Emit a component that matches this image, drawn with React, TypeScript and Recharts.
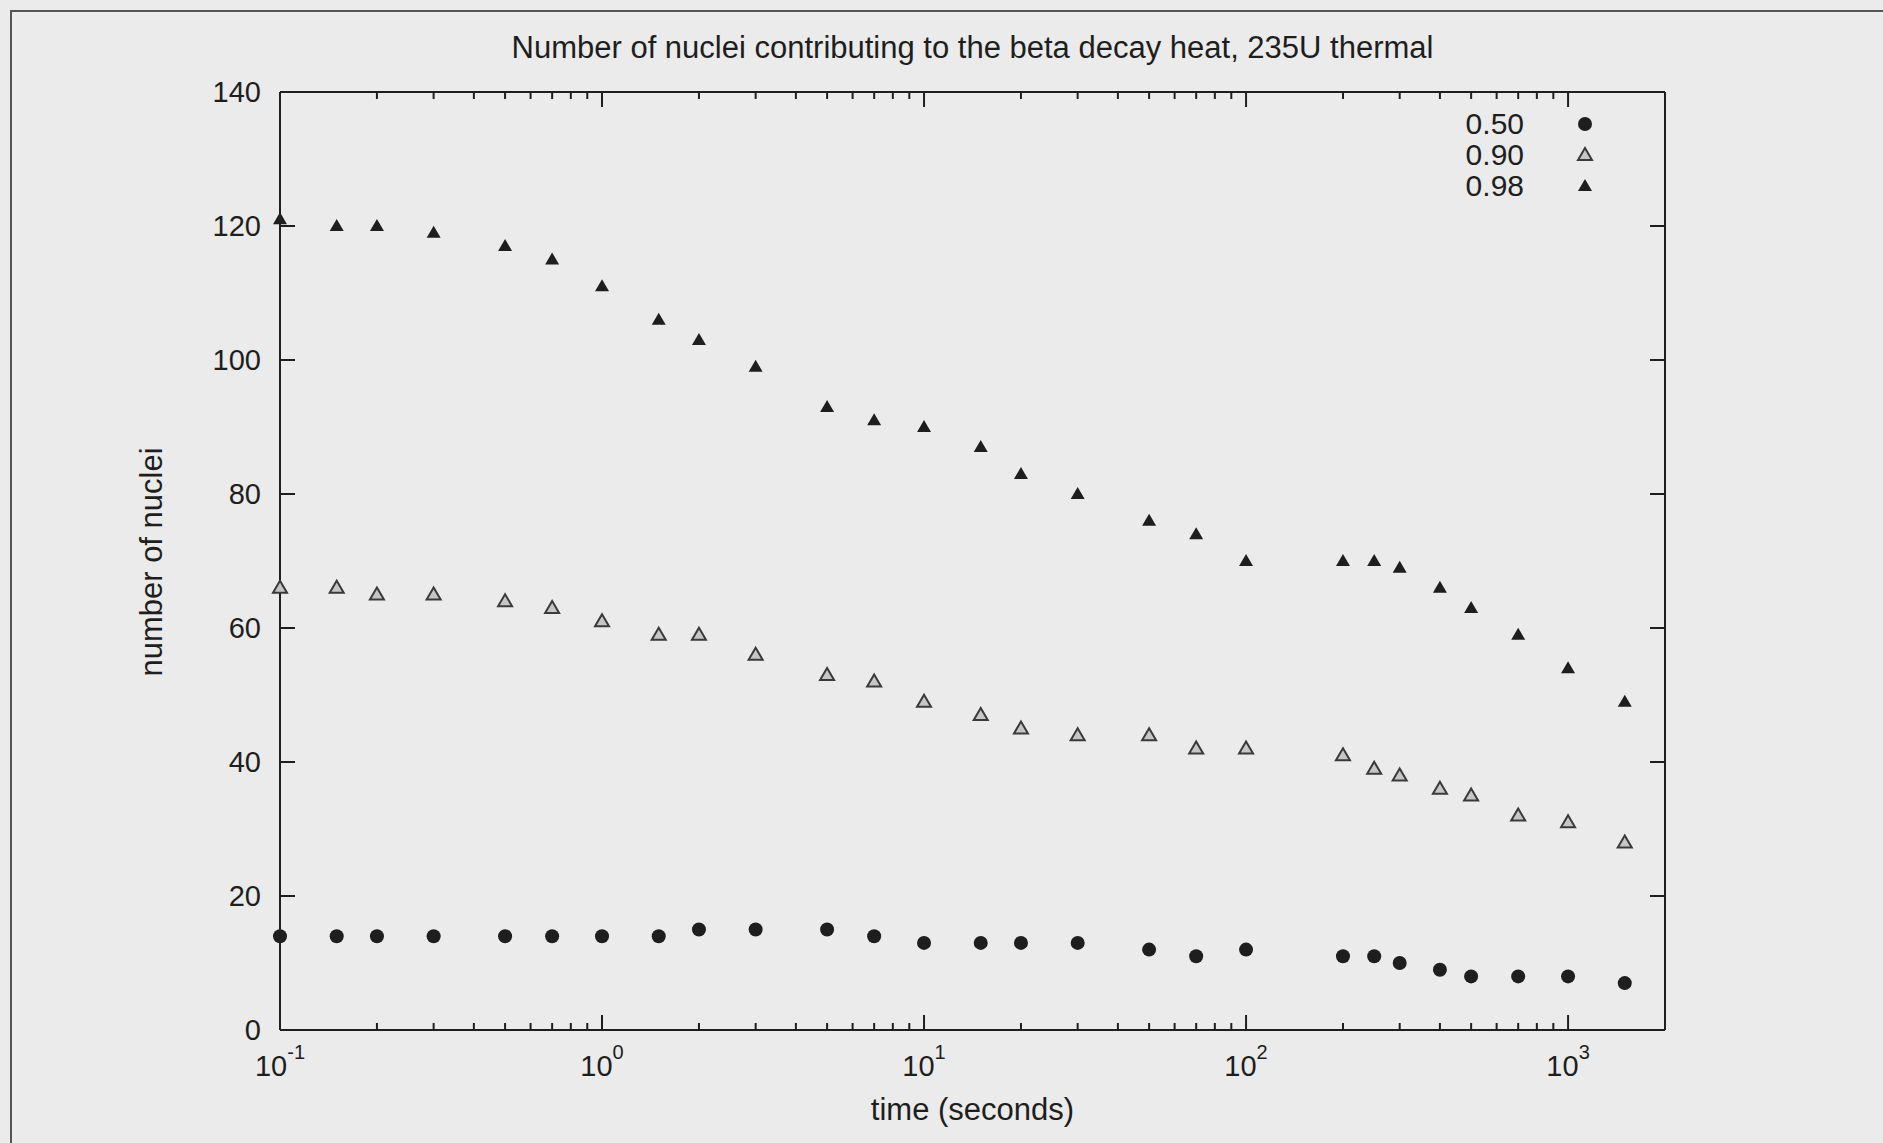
import React from "react"
import { ScatterChart, Scatter, XAxis, YAxis } from "recharts"

// time points (seconds)
const times = [0.1, 0.15, 0.2, 0.3, 0.5, 0.7, 1, 1.5, 2, 3, 5, 7, 10, 15, 20, 30, 50, 70, 100, 200, 250, 300, 400, 500, 700, 1000, 1500]

// number of nuclei needed for each fraction of the decay heat
const frac50 = [14, 14, 14, 14, 14, 14, 14, 14, 15, 15, 15, 14, 13, 13, 13, 13, 12, 11, 12, 11, 11, 10, 9, 8, 8, 8, 7]
const frac90 = [66, 66, 65, 65, 64, 63, 61, 59, 59, 56, 53, 52, 49, 47, 45, 44, 44, 42, 42, 41, 39, 38, 36, 35, 32, 31, 28]
const frac98 = [121, 120, 120, 119, 117, 115, 111, 106, 103, 99, 93, 91, 90, 87, 83, 80, 76, 74, 70, 70, 70, 69, 66, 63, 59, 54, 49]

const decades = [0.1, 1, 10, 100, 1000]
const decadeExp = ["-1", "0", "1", "2", "3"]
const yTicks = [0, 20, 40, 60, 80, 100, 120, 140]

const xTicks: number[] = []
decades.forEach((d) => {
  for (let m = 1; m <= 9; m++) {
    const v = +(d * m).toPrecision(3)
    if (v <= 2000) xTicks.push(v)
  }
})
xTicks.push(2000)

const toPoints = (vals: number[]) => times.map((t, i) => ({ t, n: vals[i] }))

// chart layout
const W = 1883
const H = 1143
const MARGIN = { top: 91, right: 217, bottom: 112, left: 279 }
const PLOT_W = W - MARGIN.left - MARGIN.right - 2
const PLOT_H = H - MARGIN.top - MARGIN.bottom - 2

const INK = "#1e1e1e"
const FONT = "'Liberation Sans', Arial, Helvetica, sans-serif"

const Dot = (p: any) => <circle cx={p.cx} cy={p.cy} r={7} fill={INK} />
const FilledTri = (p: any) => (
  <path d={`M${p.cx},${p.cy - 7} L${p.cx + 7},${p.cy + 5} L${p.cx - 7},${p.cy + 5} Z`} fill={INK} />
)
const OpenTri = (p: any) => (
  <path
    d={`M${p.cx},${p.cy - 7} L${p.cx + 7},${p.cy + 5} L${p.cx - 7},${p.cy + 5} Z`}
    fill="#c6c6c6"
    stroke="#3a3a3a"
    strokeWidth={2}
  />
)

const series = [
  { name: "0.50", data: toPoints(frac50), shape: Dot },
  { name: "0.90", data: toPoints(frac90), shape: OpenTri },
  { name: "0.98", data: toPoints(frac98), shape: FilledTri },
]

const isMajor = (v: number) => decades.indexOf(v) >= 0

// bottom ticks, mirrored onto the top edge of the frame
const XTick = (props: any) => {
  const { x, y, payload } = props
  const v = payload.value
  if (v >= 2000) return <g />
  const major = isMajor(v)
  const len = major ? 15 : 7
  const exp = decadeExp[decades.indexOf(v)]
  const top = y - PLOT_H
  return (
    <g>
      <line x1={x} x2={x} y1={y} y2={y - len} stroke={INK} strokeWidth={2} />
      <line x1={x} x2={x} y1={top} y2={top + len} stroke={INK} strokeWidth={2} />
      {major && (
        <text x={x} y={y + 46} textAnchor="middle" fontFamily={FONT} fontSize={29} fill={INK}>
          10
          <tspan dy={-17} fontSize={20}>{exp}</tspan>
        </text>
      )}
    </g>
  )
}

// left ticks, mirrored onto the right edge of the frame
const YTick = (props: any) => {
  const { x, y, payload } = props
  const right = x + PLOT_W
  return (
    <g>
      <line x1={x} x2={x + 15} y1={y} y2={y} stroke={INK} strokeWidth={2} />
      <line x1={right} x2={right - 15} y1={y} y2={y} stroke={INK} strokeWidth={2} />
      <text x={x - 19} y={y} dy={10} textAnchor="end" fontFamily={FONT} fontSize={29} fill={INK}>
        {payload.value}
      </text>
    </g>
  )
}

const Legend = () => (
  <div style={{ position: "absolute", left: 1440, top: 108 }}>
    {series.map((s) => (
      <div key={s.name} style={{ display: "flex", alignItems: "center", height: 31 }}>
        <div style={{ width: 84, textAlign: "right", fontFamily: FONT, fontSize: 30, color: INK, lineHeight: "31px" }}>
          {s.name}
        </div>
        <svg width={40} height={31} style={{ marginLeft: 41 }}>
          {s.shape({ cx: 20, cy: 16 })}
        </svg>
      </div>
    ))}
  </div>
)

const axisLine = { stroke: INK, strokeWidth: 2 }

export default function App() {
  return (
    <div
      style={{
        position: "absolute",
        left: 0,
        top: 0,
        width: W,
        height: H,
        background: "#ebebeb",
        overflow: "hidden",
      }}
    >
      <div
        style={{
          position: "absolute",
          left: 10,
          top: 10,
          width: 1900,
          height: 1200,
          borderTop: "2px solid #555",
          borderLeft: "2px solid #555",
        }}
      />
      <div
        style={{
          position: "absolute",
          left: 280,
          width: 1385,
          top: 30,
          textAlign: "center",
          fontFamily: FONT,
          fontSize: 31,
          color: INK,
        }}
      >
        Number of nuclei contributing to the beta decay heat, 235U thermal
      </div>
      <div
        style={{
          position: "absolute",
          left: 280,
          width: 1385,
          top: 1092,
          textAlign: "center",
          fontFamily: FONT,
          fontSize: 31,
          color: INK,
        }}
      >
        time (seconds)
      </div>
      <div
        style={{
          position: "absolute",
          left: 152,
          top: 562,
          transform: "translate(-50%, -50%) rotate(-90deg)",
          whiteSpace: "nowrap",
          fontFamily: FONT,
          fontSize: 31,
          color: INK,
        }}
      >
        number of nuclei
      </div>
      <ScatterChart width={W} height={H} margin={MARGIN} style={{ position: "absolute", left: 0, top: 0 }}>
        <XAxis
          xAxisId="b"
          dataKey="t"
          type="number"
          scale="log"
          domain={[0.1, 2000]}
          ticks={xTicks}
          interval={0}
          height={1}
          tickSize={0}
          tickMargin={0}
          tickLine={false}
          axisLine={axisLine}
          tick={(p: any) => <XTick {...p} />}
        />
        <XAxis
          xAxisId="t"
          orientation="top"
          dataKey="t"
          type="number"
          scale="log"
          domain={[0.1, 2000]}
          height={1}
          tickLine={false}
          tick={false}
          axisLine={axisLine}
        />
        <YAxis
          yAxisId="l"
          dataKey="n"
          type="number"
          domain={[0, 140]}
          ticks={yTicks}
          interval={0}
          width={1}
          tickSize={0}
          tickMargin={0}
          tickLine={false}
          axisLine={axisLine}
          tick={(p: any) => <YTick {...p} />}
        />
        <YAxis
          yAxisId="r"
          orientation="right"
          dataKey="n"
          type="number"
          domain={[0, 140]}
          width={1}
          tickLine={false}
          tick={false}
          axisLine={axisLine}
        />
        {series.map((s) => (
          <Scatter
            key={s.name}
            name={s.name}
            data={s.data}
            xAxisId="b"
            yAxisId="l"
            shape={s.shape}
            isAnimationActive={false}
          />
        ))}
      </ScatterChart>
      <Legend />
    </div>
  )
}
